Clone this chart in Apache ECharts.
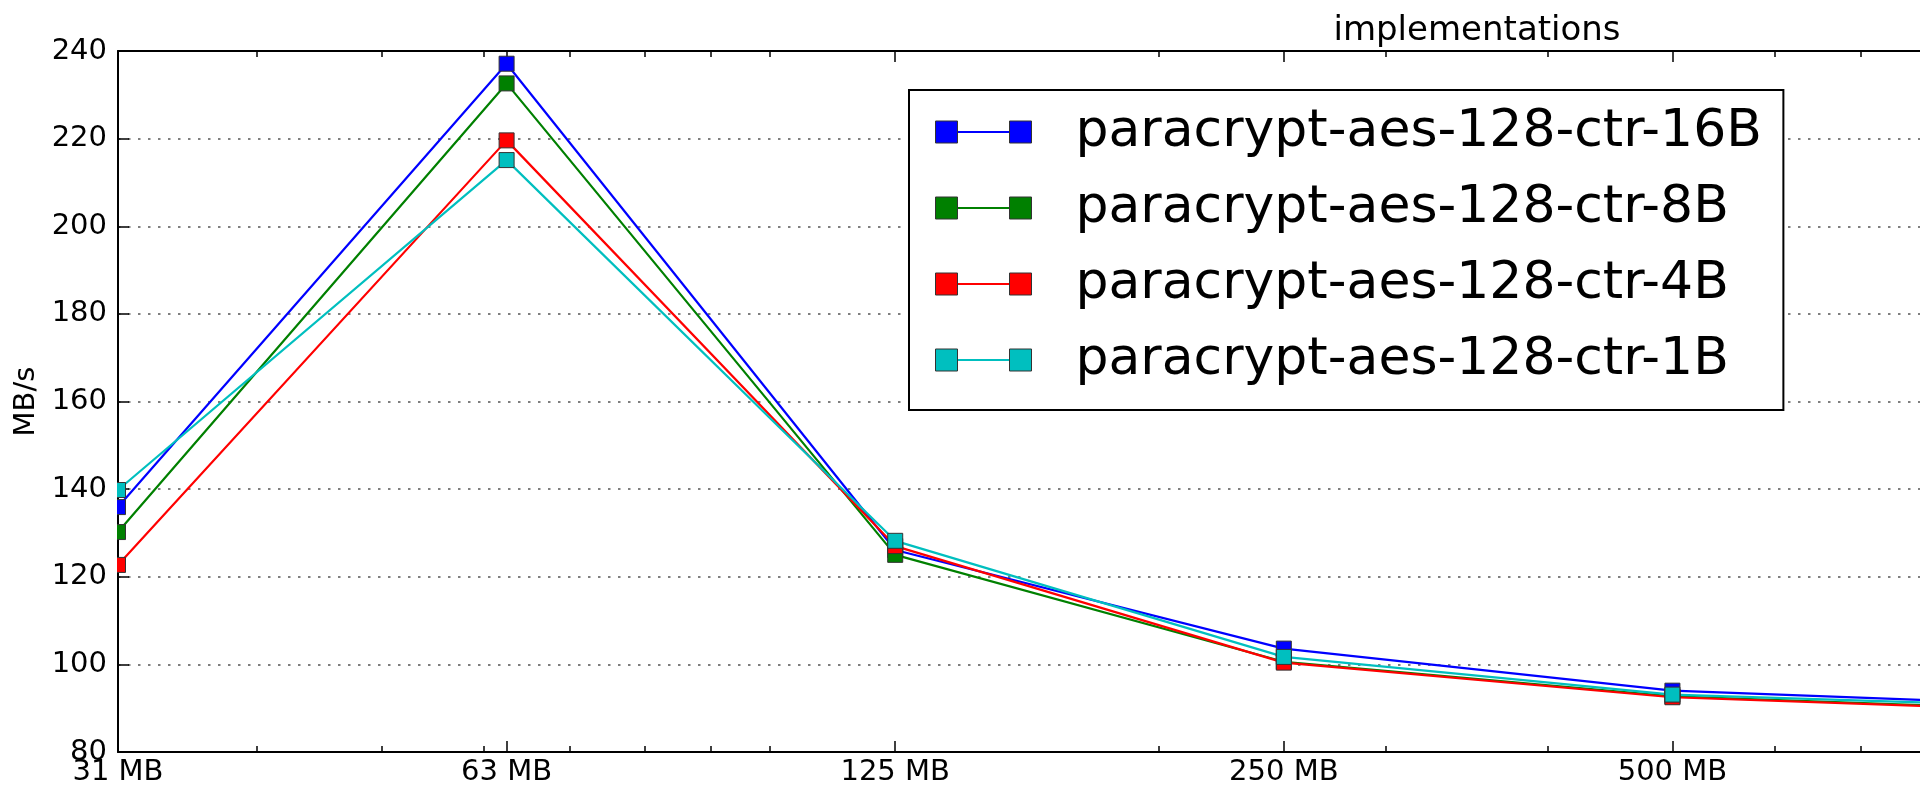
<!DOCTYPE html>
<html><head><meta charset="utf-8">
<script src="https://cdn.jsdelivr.net/npm/echarts@6/dist/echarts.min.js"></script>
<style>html,body{margin:0;padding:0;background:#fff;}#c{width:1920px;height:789px;}</style>
</head><body><div id="c"></div>
<script>
// ---- data ----
const sizesMB = [31.25, 62.5, 125, 250, 500, 1000];
const sizeLabels = ['31 MB', '63 MB', '125 MB', '250 MB', '500 MB', '1000 MB'];
const minorTickValues = [40, 50, 60, 70, 80, 90, 100, 200, 300, 400, 600, 700, 800, 900];
// visible part of the (cropped) log axis: from 31.25 MB to the right edge of the picture
const xRange = [31.25, 777.6];
const yRange = [80, 240];
const yStep = 20;
const seriesNames = ['paracrypt-aes-128-ctr-16B', 'paracrypt-aes-128-ctr-8B', 'paracrypt-aes-128-ctr-4B', 'paracrypt-aes-128-ctr-1B'];
const ctr16B = [135.9, 237.1, 126.1, 103.6, 94.0, 90.7];
const ctr8B  = [130.2, 232.6, 125.0, 100.6, 92.7, 89.6];
const ctr4B  = [122.7, 219.6, 127.0, 100.4, 92.5, 89.4];
const ctr1B  = [139.8, 215.1, 128.2, 101.7, 93.1, 90.3];
const seriesColors = ['#0000ff', '#008000', '#ff0000', '#00bfbf'];
const titleText = 'implementations';
const yName = 'MB/s';

const FONT = 'DejaVu Sans';
const allValues = [ctr16B, ctr8B, ctr4B, ctr1B];

function labelFor(v) {
  let best = 0, bd = Infinity;
  sizesMB.forEach((s, i) => { const d = Math.abs(Math.log(s) - Math.log(v)); if (d < bd) { bd = d; best = i; } });
  return sizeLabels[best];
}

const chart = echarts.init(document.getElementById('c'), null, {renderer: 'canvas'});

const baseX = {
  type: 'log', logBase: 10, min: xRange[0], max: xRange[1],
  splitLine: {show: false}, axisPointer: {show: false}
};

const option = {
  animation: false,
  backgroundColor: '#fff',
  title: {
    text: titleText, left: 1477, top: 14, padding: 0, textAlign: 'center',
    textStyle: {fontFamily: FONT, fontSize: 34, fontWeight: 'normal', color: '#000'}
  },
  grid: {left: 118, top: 51, right: 0, bottom: 37, containLabel: false},
  xAxis: [
    Object.assign({}, baseX, {
      position: 'bottom',
      axisLine: {show: true, onZero: false, lineStyle: {color: '#000', width: 2}},
      axisTick: {show: true, inside: true, length: 11, customValues: sizesMB, lineStyle: {color: '#000', width: 1.5}},
      axisLabel: {show: true, customValues: sizesMB, margin: 6, formatter: v => labelFor(v),
        fontFamily: FONT, fontSize: 29, color: '#000'},
      minorTick: {show: false}
    }),
    Object.assign({}, baseX, {
      position: 'bottom',
      axisLine: {show: false},
      axisTick: {show: true, inside: true, length: 6, customValues: minorTickValues, lineStyle: {color: '#000', width: 1.5}},
      axisLabel: {show: false}
    }),
    Object.assign({}, baseX, {
      position: 'top',
      axisLine: {show: true, onZero: false, lineStyle: {color: '#000', width: 2}},
      axisTick: {show: true, inside: true, length: 11, customValues: sizesMB, lineStyle: {color: '#000', width: 1.5}},
      axisLabel: {show: false}
    }),
    Object.assign({}, baseX, {
      position: 'top',
      axisLine: {show: false},
      axisTick: {show: true, inside: true, length: 6, customValues: minorTickValues, lineStyle: {color: '#000', width: 1.5}},
      axisLabel: {show: false}
    })
  ],
  yAxis: [{
    type: 'value', min: yRange[0], max: yRange[1], interval: yStep,
    name: yName, nameLocation: 'middle', nameRotate: 90, nameGap: 72,
    nameTextStyle: {fontFamily: FONT, fontSize: 29, color: '#000'},
    axisLine: {show: true, lineStyle: {color: '#000', width: 2}},
    axisTick: {show: true, inside: true, length: 11, lineStyle: {color: '#000', width: 1.5}},
    axisLabel: {margin: 11, fontFamily: FONT, fontSize: 29, color: '#000'},
    splitLine: {show: true, lineStyle: {color: '#555', width: 1.5, type: [2.5, 7.5]}}
  }],
  legend: [
    {
      // line part of the legend keys + frame
      data: seriesNames, orient: 'vertical', left: 909, top: 90,
      padding: [16, 22, 24, 26], itemGap: 24, itemWidth: 96, itemHeight: 22,
      icon: 'path://M0,10H96V12H0Z', symbolKeepAspect: true,
      backgroundColor: '#fff', borderColor: '#000', borderWidth: 2, borderRadius: 0,
      itemStyle: {borderWidth: 0},
      textStyle: {fontFamily: FONT, fontSize: 52, color: 'rgba(0,0,0,0)', padding: [0, 0, 0, 39]},
      z: 4
    },
    {
      // marker part + text
      data: seriesNames, orient: 'vertical', left: 909, top: 90,
      padding: [16, 22, 24, 26], itemGap: 24, itemWidth: 96, itemHeight: 22,
      icon: 'path://M0,0H22V22H0ZM74,0H96V22H74Z', symbolKeepAspect: true,
      itemStyle: {borderColor: '#333', borderWidth: 1},
      textStyle: {fontFamily: FONT, fontSize: 52, color: '#000', padding: [0, 0, 0, 39]},
      z: 5
    }
  ],
  graphic: [{
    type: 'rect', left: 109.5, top: 45, z: 100,
    shape: {width: 7.5, height: 712}, style: {fill: '#fff'}
  }],
  series: seriesNames.map((name, i) => ({
    name: name, type: 'line', xAxisIndex: 0, yAxisIndex: 0,
    data: sizesMB.map((s, j) => [s, allValues[i][j]]),
    symbol: 'rect', symbolSize: 15, showAllSymbol: true,
    color: seriesColors[i],
    lineStyle: {color: seriesColors[i], width: 2.2},
    itemStyle: {color: seriesColors[i], borderColor: '#333', borderWidth: 1},
    emphasis: {disabled: true},
    clip: true
  }))
};
chart.setOption(option);
</script>
</body></html>
